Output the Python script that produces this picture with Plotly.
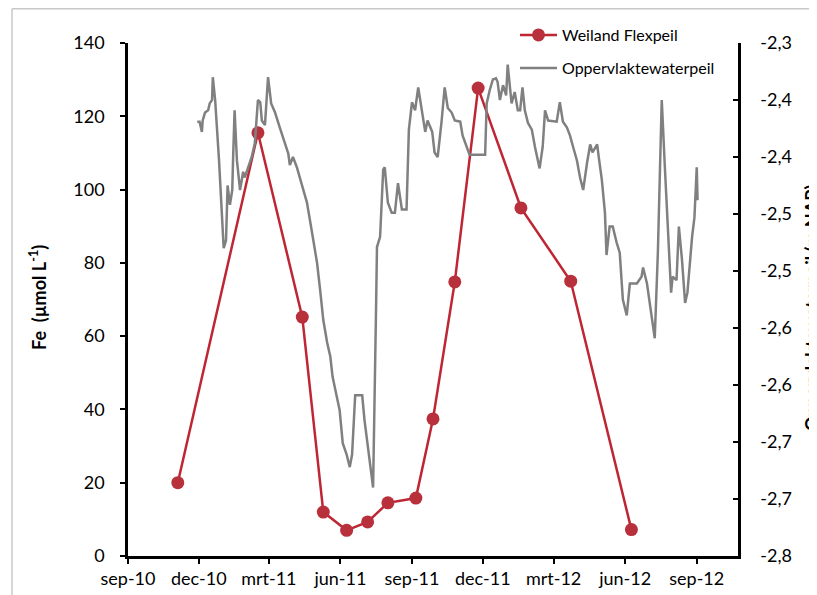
import plotly.graph_objects as go

# ---- Weiland Flexpeil: Fe (µmol/L), left axis ----
fe_dates = ["2010-11-04", "2011-02-15", "2011-04-13", "2011-05-10", "2011-06-09",
            "2011-07-06", "2011-08-01", "2011-09-06", "2011-09-28", "2011-10-26",
            "2011-11-25", "2012-01-19", "2012-03-23", "2012-06-09"]
fe_values = [20.0, 115.5, 65.2, 12.0, 7.0, 9.3, 14.5, 15.8, 37.4, 74.8,
             127.7, 95.0, 75.0, 7.2]

# ---- Oppervlaktewaterpeil (m NAP), right axis ----
peil_dates = [
    "2010-11-29", "2010-12-02", "2010-12-05", "2010-12-06", "2010-12-09", "2010-12-13",
    "2010-12-15", "2010-12-18", "2010-12-19", "2010-12-22", "2010-12-27", "2010-12-31",
    "2011-01-02", "2011-01-05", "2011-01-07", "2011-01-10", "2011-01-13", "2011-01-14",
    "2011-01-16", "2011-01-19", "2011-01-23", "2011-01-27", "2011-01-29", "2011-02-02",
    "2011-02-07", "2011-02-11", "2011-02-14", "2011-02-15", "2011-02-18", "2011-02-20",
    "2011-02-24", "2011-02-28", "2011-03-04", "2011-03-09", "2011-03-15", "2011-03-22",
    "2011-03-26", "2011-03-28", "2011-04-01", "2011-04-06", "2011-04-13", "2011-04-19",
    "2011-04-25", "2011-05-02", "2011-05-06", "2011-05-10", "2011-05-15", "2011-05-19",
    "2011-05-22", "2011-05-28", "2011-05-31", "2011-06-04", "2011-06-09", "2011-06-13",
    "2011-06-16", "2011-06-20", "2011-06-29", "2011-07-02", "2011-07-06", "2011-07-09",
    "2011-07-13", "2011-07-17", "2011-07-18", "2011-07-22", "2011-07-26", "2011-07-28",
    "2011-08-01", "2011-08-06", "2011-08-10", "2011-08-14", "2011-08-19", "2011-08-25",
    "2011-08-28", "2011-09-01", "2011-09-05", "2011-09-09", "2011-09-14", "2011-09-18",
    "2011-09-21", "2011-09-27", "2011-09-30", "2011-10-04", "2011-10-09", "2011-10-13",
    "2011-10-17", "2011-10-22", "2011-10-26", "2011-11-02", "2011-11-05", "2011-11-11",
    "2011-11-14", "2011-12-04", "2011-12-06", "2011-12-10", "2011-12-14", "2011-12-18",
    "2011-12-20", "2011-12-23", "2011-12-27", "2011-12-31", "2012-01-02", "2012-01-07",
    "2012-01-11", "2012-01-15", "2012-01-18", "2012-01-21", "2012-01-24", "2012-01-28",
    "2012-02-02", "2012-02-06", "2012-02-10", "2012-02-12", "2012-02-16", "2012-02-19",
    "2012-02-23", "2012-03-05", "2012-03-09", "2012-03-13", "2012-03-18", "2012-03-22",
    "2012-03-26", "2012-03-31", "2012-04-04", "2012-04-08", "2012-04-13", "2012-04-17",
    "2012-04-20", "2012-04-26", "2012-04-28", "2012-05-02", "2012-05-06", "2012-05-08",
    "2012-05-12", "2012-05-16", "2012-05-21", "2012-05-25", "2012-05-29", "2012-06-03",
    "2012-06-07", "2012-06-16", "2012-06-22", "2012-06-24", "2012-06-29", "2012-07-03",
    "2012-07-06", "2012-07-09", "2012-07-13", "2012-07-18", "2012-07-22", "2012-07-26",
    "2012-07-30", "2012-08-01", "2012-08-06", "2012-08-09", "2012-08-13", "2012-08-17",
    "2012-08-20", "2012-08-26", "2012-08-29", "2012-09-01", "2012-09-02",
]
peil_values = [
    -2.419, -2.419, -2.428, -2.418, -2.411, -2.409,
    -2.403, -2.400, -2.380, -2.400, -2.453, -2.510,
    -2.530, -2.523, -2.475, -2.492, -2.479, -2.453,
    -2.409, -2.453, -2.479, -2.463, -2.468, -2.460,
    -2.450, -2.438, -2.413, -2.400, -2.402, -2.418,
    -2.422, -2.380, -2.403, -2.411, -2.424, -2.438,
    -2.447, -2.457, -2.450, -2.459, -2.476, -2.490,
    -2.514, -2.543, -2.567, -2.593, -2.613, -2.625,
    -2.643, -2.663, -2.672, -2.701, -2.711, -2.722,
    -2.711, -2.659, -2.659, -2.681, -2.701, -2.716,
    -2.740, -2.575, -2.529, -2.520, -2.461, -2.459,
    -2.490, -2.499, -2.499, -2.473, -2.496, -2.496,
    -2.426, -2.402, -2.409, -2.389, -2.409, -2.428,
    -2.418, -2.428, -2.446, -2.450, -2.419, -2.389,
    -2.407, -2.411, -2.418, -2.419, -2.431, -2.442,
    -2.448, -2.448, -2.403, -2.391, -2.382, -2.381,
    -2.384, -2.400, -2.387, -2.396, -2.369, -2.403,
    -2.393, -2.409, -2.409, -2.389, -2.409, -2.420,
    -2.426, -2.441, -2.453, -2.460, -2.441, -2.409,
    -2.418, -2.419, -2.402, -2.419, -2.424, -2.431,
    -2.441, -2.453, -2.468, -2.479, -2.455, -2.439,
    -2.446, -2.439, -2.450, -2.470, -2.499, -2.536,
    -2.511, -2.511, -2.525, -2.534, -2.575, -2.589,
    -2.561, -2.561, -2.555, -2.547, -2.561, -2.582,
    -2.596, -2.609, -2.534, -2.400, -2.459, -2.514,
    -2.569, -2.555, -2.558, -2.511, -2.540, -2.578,
    -2.569, -2.520, -2.503, -2.459, -2.488,
]

# ---- axis ticks ----
x_tickvals = ["2010-09-01", "2010-12-01", "2011-03-01", "2011-06-01", "2011-09-01",
              "2011-12-01", "2012-03-01", "2012-06-01", "2012-09-01"]
x_ticktext = ["sep-10", "dec-10", "mrt-11", "jun-11", "sep-11",
              "dec-11", "mrt-12", "jun-12", "sep-12"]
x_range = ["2010-09-01", "2012-10-24"]

y_tickvals = [0, 20, 40, 60, 80, 100, 120, 140]
y2_tickvals = [-2.80, -2.75, -2.70, -2.65, -2.60, -2.55, -2.50, -2.45, -2.40, -2.35]
y2_ticktext = ["-2,8", "-2,7", "-2,7", "-2,6", "-2,6", "-2,5", "-2,5", "-2,4", "-2,4", "-2,3"]

FONT = "Lato, 'Open Sans', sans-serif"
RED = "#BE2633"
GRAY = "#808080"

# The page body adds an 8 px margin, so the figure is 8 px smaller than the window.
PAGE_OFF = 8
FIG_W, FIG_H = 817 - PAGE_OFF, 595 - PAGE_OFF
PLOT_L, PLOT_R, PLOT_T, PLOT_B = 128, 738, 43, 556  # plot area in window pixels
PW, PH = PLOT_R - PLOT_L, PLOT_B - PLOT_T


def px(xp):
    return (xp - PLOT_L) / PW


def py(yp):
    return (PLOT_B - yp) / PH


fig = go.Figure()
fig.add_trace(go.Scatter(
    x=fe_dates, y=fe_values, name="Weiland Flexpeil", mode="lines+markers",
    line=dict(color=RED, width=2.5),
    marker=dict(color="#B8303C", size=13, line=dict(width=0)),
    yaxis="y", legend="legend", showlegend=True,
))
fig.add_trace(go.Scatter(
    x=peil_dates, y=peil_values, name="Oppervlaktewaterpeil", mode="lines",
    line=dict(color=GRAY, width=2.5),
    yaxis="y2", legend="legend2", showlegend=True,
))

axis_common = dict(showgrid=False, zeroline=False, showline=True, linecolor="black",
                   linewidth=2.5, tickcolor="black", tickwidth=2, automargin=False,
                   tickfont=dict(family=FONT, size=18, color="black"))

legend_common = dict(xanchor="left", yanchor="middle", bgcolor="rgba(0,0,0,0)",
                     borderwidth=0, itemwidth=37,
                     font=dict(family=FONT, size=16, color="black"))

fig.update_layout(
    width=FIG_W, height=FIG_H,
    showlegend=True,
    margin=dict(l=PLOT_L - PAGE_OFF, r=FIG_W - (PLOT_R - PAGE_OFF),
                t=PLOT_T - PAGE_OFF, b=FIG_H - (PLOT_B - PAGE_OFF), autoexpand=False),
    paper_bgcolor="white", plot_bgcolor="white",
    font=dict(family=FONT, color="black"),
    xaxis=dict(type="date", range=x_range, tickmode="array", tickvals=x_tickvals,
               ticktext=x_ticktext, ticks="outside", ticklen=5,
               ticklabelstandoff=0, **axis_common),
    yaxis=dict(range=[0, 140], tickmode="array", tickvals=y_tickvals,
               ticks="outside", ticklen=5, ticklabelstandoff=12, **axis_common),
    yaxis2=dict(range=[-2.8, -2.35], overlaying="y", side="right", tickmode="array",
                tickvals=y2_tickvals, ticktext=y2_ticktext, ticks="inside", ticklen=5,
                ticklabelstandoff=16, **axis_common),
    legend=dict(x=px(515), y=py(35), **legend_common),
    legend2=dict(x=px(515), y=py(68), **legend_common),
    annotations=[
        dict(text="Fe\u00a0 (µmol L<sup>-1</sup>)", xref="paper", yref="paper",
             x=px(38), y=py(298), textangle=-90, showarrow=False,
             xanchor="center", yanchor="middle",
             font=dict(family=FONT, size=18, color="black", weight="bold")),
        dict(text="Oppervlaktewaterpeil (m NAP)", xref="paper", yref="paper",
             x=px(812), y=py(308), textangle=-90, showarrow=False,
             xanchor="center", yanchor="middle",
             font=dict(family=FONT, size=18, color="black", weight="bold")),
    ],
    shapes=[
        dict(type="line", xref="paper", yref="paper", x0=px(12), x1=px(830),
             y0=py(8.8), y1=py(8.8), line=dict(color="#C8C8C8", width=1.5)),
        dict(type="line", xref="paper", yref="paper", x0=px(12), x1=px(12),
             y0=py(8.8), y1=py(610), line=dict(color="#C8C8C8", width=1.5)),
    ],
)

fig.write_html("out.html")
